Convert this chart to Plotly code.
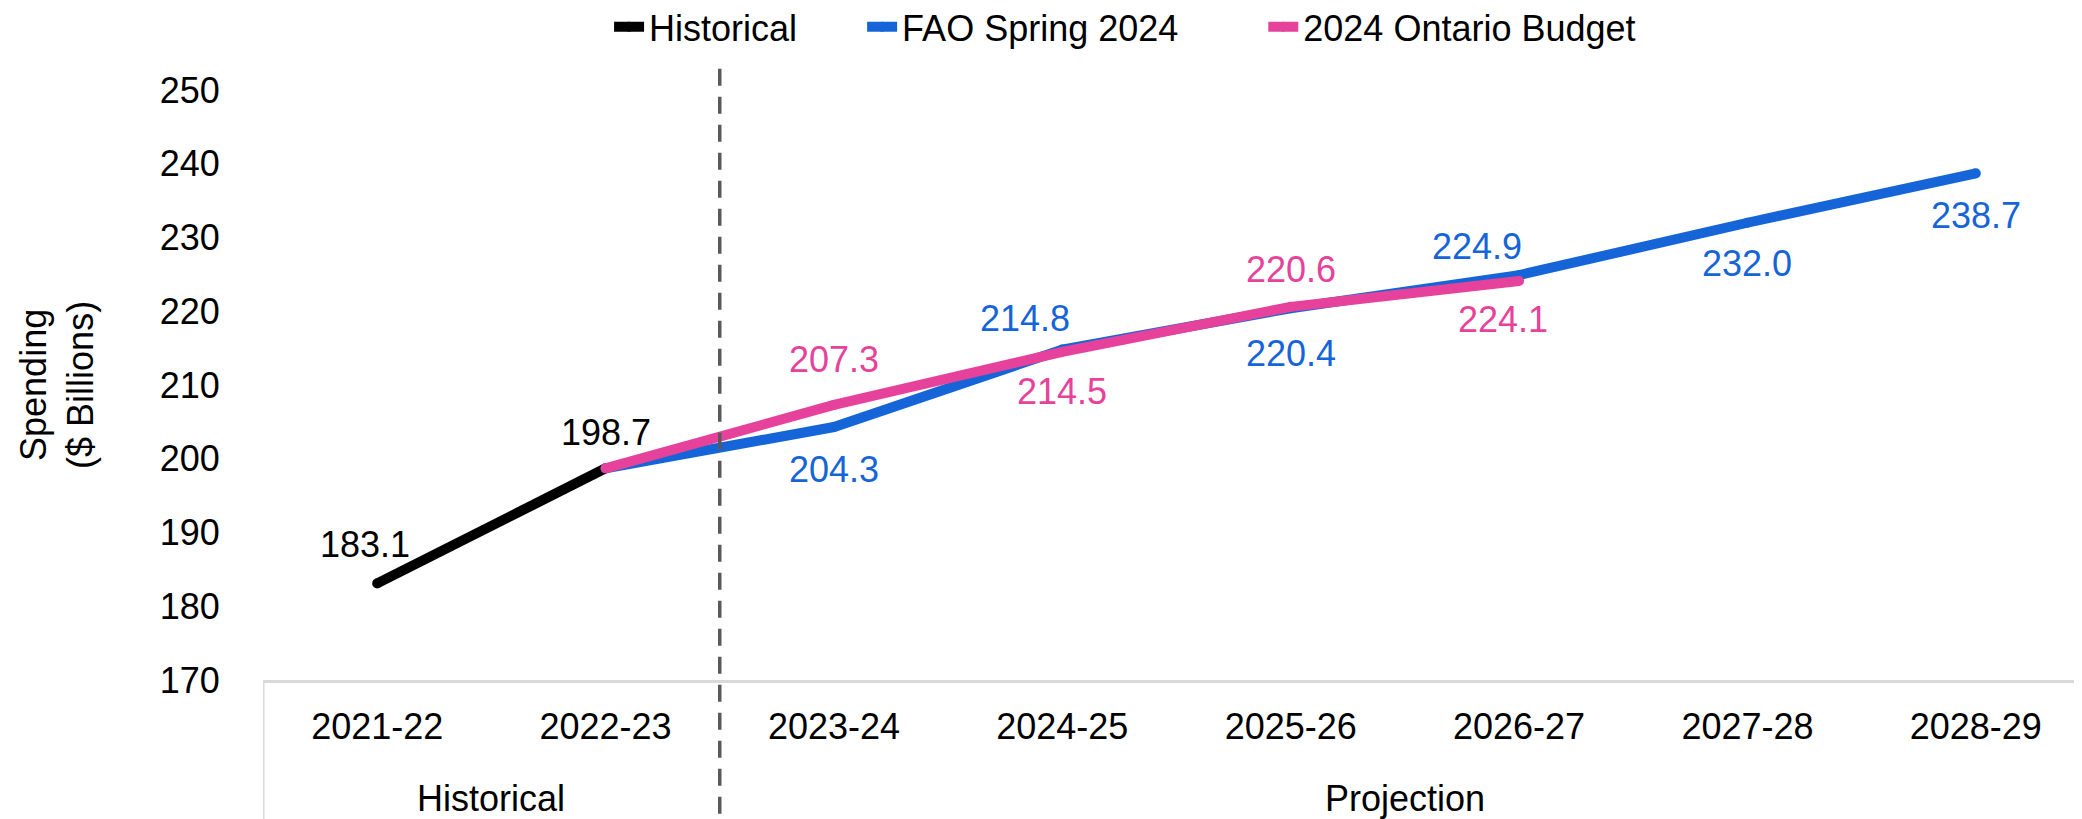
import plotly.graph_objects as go

# ---------------- data ----------------
years = ["2021-22", "2022-23", "2023-24", "2024-25", "2025-26", "2026-27", "2027-28", "2028-29"]
hist_years = ["2021-22", "2022-23"]
hist_values = [183.1, 198.7]
fao_years = ["2022-23", "2023-24", "2024-25", "2025-26", "2026-27", "2027-28", "2028-29"]
fao_values = [198.7, 204.3, 214.8, 220.4, 224.9, 232.0, 238.7]
budget_years = ["2022-23", "2023-24", "2024-25", "2025-26", "2026-27"]
budget_values = [198.7, 207.3, 214.5, 220.6, 224.1]
series_names = ["Historical", "FAO Spring 2024", "2024 Ontario Budget"]
group_names = ["Historical", "Projection"]
group_centers = [0.5, 4.5]
y_ticks = [170, 180, 190, 200, 210, 220, 230, 240, 250]
y_title = "Spending<br>($ Billions)"

# ---------------- style ----------------
FONT = "Liberation Sans, Arial, sans-serif"
FS = 36
BLACK = "#000000"
BLUE = "#1565D8"
PINK = "#E6429B"
GREY_AXIS = "#D9D9D9"
GREY_DASH = "#595959"
LW = 10
NBSP = "\u00a0"
legend_pad = [6, 8, 0]   # trailing spaces to widen legend item spacing

# label offsets (px) for each labelled point: (xshift, yshift)
hist_offsets = [(-12, 39), (0, 36)]
fao_offsets = [None, (0, -42), (-37, 31), (0, -45), (-42, 29), (0, -41), (0, -42)]
budget_offsets = [None, (0, 45), (0, -40), (0, 37), (-16, -38)]

fig = go.Figure()
for xs, ys, name, pad, col in zip([hist_years, fao_years, budget_years],
                                  [hist_values, fao_values, budget_values],
                                  series_names, legend_pad, [BLACK, BLUE, PINK]):
    fig.add_trace(go.Scatter(x=xs, y=ys, mode="lines+markers", name=name + NBSP * pad,
                             line=dict(color=col, width=LW),
                             marker=dict(color=col, size=LW, line=dict(width=0))))

annotations = []
for xs, ys, offs, col in [(hist_years, hist_values, hist_offsets, BLACK),
                          (fao_years, fao_values, fao_offsets, BLUE),
                          (budget_years, budget_values, budget_offsets, PINK)]:
    for xv, yv, off in zip(xs, ys, offs):
        if off is None:
            continue
        annotations.append(dict(x=xv, y=yv, xref="x", yref="y", text=f"{yv:.1f}",
                                showarrow=False, xshift=off[0], yshift=off[1],
                                font=dict(family=FONT, size=FS, color=col),
                                xanchor="center", yanchor="middle"))

for name, cx in zip(group_names, group_centers):
    annotations.append(dict(x=cx, y=-0.2, xref="x", yref="paper", text=name, showarrow=False,
                            font=dict(family=FONT, size=FS, color=BLACK),
                            xanchor="center", yanchor="middle"))

# y-axis title
annotations.append(dict(x=-0.1128, y=0.5, xref="paper", yref="paper", text=y_title,
                        showarrow=False, textangle=-90, xanchor="center", yanchor="middle",
                        font=dict(family=FONT, size=FS, color=BLACK)))

shapes = [
    # left border of category label box
    dict(type="line", xref="x", yref="paper", x0=-0.5, x1=-0.5, y0=0, y1=-0.26,
         line=dict(color=GREY_AXIS, width=3)),
    # historical / projection divider
    dict(type="line", xref="x", yref="paper", x0=1.5, x1=1.5, y0=1.036, y1=-0.26,
         line=dict(color=GREY_DASH, width=3.5, dash="17px,11px")),
]

fig.update_layout(
    width=2082, height=819,
    margin=dict(l=255, r=0, t=82, b=147, autoexpand=False),
    paper_bgcolor="white", plot_bgcolor="white",
    font=dict(family=FONT, size=FS, color=BLACK),
    showlegend=True,
    legend=dict(orientation="h", xref="container", yref="paper", x=0.2887, xanchor="left",
                y=1.158, yanchor="top", font=dict(family=FONT, size=FS, color=BLACK),
                itemwidth=30, tracegroupgap=0, bgcolor="rgba(0,0,0,0)"),
    annotations=annotations,
    shapes=shapes,
)
fig.update_xaxes(type="category", categoryorder="array", categoryarray=years,
                 range=[-0.5, 7.5], showgrid=False, zeroline=False,
                 showline=True, linecolor=GREY_AXIS, linewidth=3,
                 ticks="outside", ticklen=13, tickcolor="rgba(0,0,0,0)",
                 tickfont=dict(family=FONT, size=FS, color=BLACK), automargin=False)
fig.update_yaxes(range=[170, 250], tickvals=y_ticks, showgrid=False, zeroline=False, showline=False,
                 ticks="outside", ticklen=35, tickcolor="rgba(0,0,0,0)",
                 tickfont=dict(family=FONT, size=FS, color=BLACK),
                 automargin=False)

fig.write_html("out.html")
